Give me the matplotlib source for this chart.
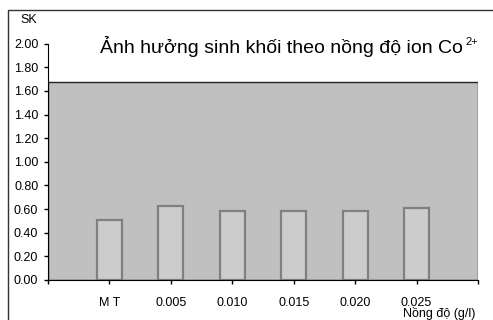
import matplotlib
matplotlib.use("Agg")
import matplotlib.pyplot as plt
from matplotlib.patches import Rectangle

plt.rcParams['font.family'] = ['Liberation Sans', 'DejaVu Sans']

categories = ['MT', '0.005', '0.010', '0.015', '0.020', '0.025']
values = [0.51, 0.625, 0.585, 0.585, 0.585, 0.61]
yticks = [0.0, 0.2, 0.4, 0.6, 0.8, 1.0, 1.2, 1.4, 1.6, 1.8, 2.0]
plot_top = 1.678

fig = plt.figure(figsize=(4.93, 3.2), dpi=100)
ax = fig.add_axes([48/493, 40/320, 430/493, 236.3/320])
ax.set_xlim(0, 7)
ax.set_ylim(0, 2)
ax.patch.set_visible(False)

# gray plot area (ends below the top of the y axis)
ax.add_patch(Rectangle((0, 0), 7, plot_top, facecolor='#c0c0c0',
                       edgecolor='#222222', lw=1, zorder=0))

x = list(range(1, len(categories) + 1))
ax.bar(x, values, width=0.41, color='#cccccc', edgecolor='#808080', lw=1.6, zorder=2)

for s in ['top', 'right']:
    ax.spines[s].set_visible(False)
ax.spines['left'].set_color('black')
ax.spines['bottom'].set_color('black')

ax.set_xticks(range(0, 8))
ax.set_xticklabels([''] + ['M T'] + categories[1:] + [''], fontsize=9)
ax.tick_params(axis='x', direction='out', length=3, pad=9, width=1)
ax.set_yticks(yticks)
ax.set_yticklabels(['%.2f' % v for v in yticks], fontsize=9)
ax.tick_params(axis='y', direction='out', length=3, pad=4, width=1)

# outer frame
fig.add_artist(Rectangle((8/493, -0.1), 1.2, (320 - 10)/320 + 0.1, transform=fig.transFigure,
                         fill=False, edgecolor='#333333', lw=1))

fig.text(29/493, 1 - 20/320, 'SK', fontsize=9, ha='center', va='center')
t = fig.text(100/493, 1 - 53/320, 'Ảnh hưởng sinh khối theo nồng độ ion Co',
             fontsize=14, ha='left', va='baseline')
fig.canvas.draw()
bb = t.get_window_extent()
fig.text((bb.x1 + 3) / 493, 1 - 45/320, '2+', fontsize=8, ha='left', va='baseline')
fig.text(475/493, 1 - 314/320, 'Nồng độ (g/l)', fontsize=9, ha='right', va='center')

fig.savefig('out.png', dpi=100)
